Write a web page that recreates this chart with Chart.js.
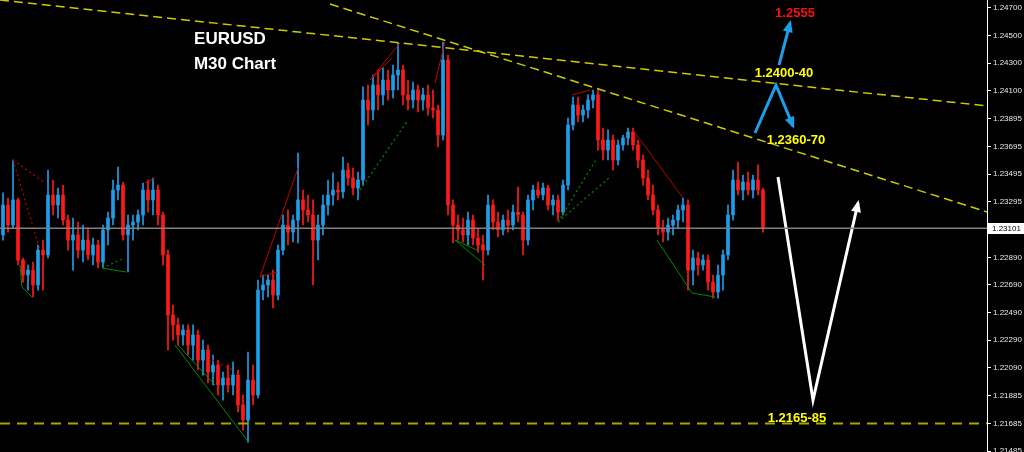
<!DOCTYPE html>
<html>
<head>
<meta charset="utf-8">
<script src="https://cdn.jsdelivr.net/npm/chart.js@4/dist/chart.umd.min.js"></script>
<style>
  html, body { margin: 0; padding: 0; background: #000; }
  canvas { display: block; background: #000; }
</style>
</head>
<body>
<canvas id="myChart" width="1024" height="452"></canvas>
<script>
// EURUSD M30 candles (one entry per bar, oldest first)
const opens = [
  1.23053, 1.23270, 1.23125, 1.23307, 1.22871, 1.22762, 1.22798, 1.22690, 1.22943, 1.22908,
  1.23343, 1.23270, 1.23343, 1.23161, 1.23016, 1.23053, 1.22943, 1.23016, 1.22908, 1.22980,
  1.22857, 1.23089, 1.23176, 1.23379, 1.23415, 1.23053, 1.23125, 1.23147, 1.23198, 1.23379,
  1.23307, 1.23379, 1.23198, 1.22908, 1.22472, 1.22400, 1.22327, 1.22363, 1.22254, 1.22327,
  1.22145, 1.22218, 1.22058, 1.22109, 1.21964, 1.22015, 1.21964, 1.22036, 1.21819, 1.21710,
  1.22000, 1.21892, 1.22653, 1.22690, 1.22726, 1.22617, 1.22943, 1.23125, 1.23074, 1.23161,
  1.23307, 1.23234, 1.23198, 1.23016, 1.23125, 1.23270, 1.23343, 1.23379, 1.23365, 1.23524,
  1.23466, 1.23394, 1.23452, 1.24032, 1.23960, 1.24141, 1.24069, 1.24177, 1.24105, 1.24214,
  1.24250, 1.24069, 1.24032, 1.24105, 1.24032, 1.24069, 1.23974, 1.23960, 1.23778, 1.24323,
  1.23270, 1.23125, 1.23089, 1.23053, 1.23161, 1.23031, 1.22980, 1.22943, 1.23270, 1.23147,
  1.23089, 1.23161, 1.23125, 1.23219, 1.23198, 1.23016, 1.23307, 1.23379, 1.23343, 1.23394,
  1.23270, 1.23307, 1.23219, 1.23415, 1.23851, 1.23996, 1.23923, 1.23960, 1.24032, 1.24069,
  1.23742, 1.23669, 1.23742, 1.23597, 1.23706, 1.23757, 1.23800, 1.23706, 1.23597, 1.23466,
  1.23343, 1.23234, 1.23103, 1.23074, 1.23125, 1.23161, 1.23234, 1.23270, 1.22798, 1.22886,
  1.22835, 1.22871, 1.22711, 1.22639, 1.22762, 1.22908, 1.23198, 1.23452, 1.23379, 1.23437,
  1.23379, 1.23452, 1.23379
];
const highs = [
  1.23358, 1.23321, 1.23597, 1.23321, 1.22886, 1.22835, 1.22857, 1.22980, 1.23016, 1.23524,
  1.23452, 1.23394, 1.23415, 1.23198, 1.23176, 1.23147, 1.23125, 1.23103, 1.23031, 1.23016,
  1.23125, 1.23219, 1.23452, 1.23546, 1.23437, 1.23198, 1.23198, 1.23234, 1.23430, 1.23452,
  1.23466, 1.23415, 1.23219, 1.22943, 1.22545, 1.22450, 1.22400, 1.22400, 1.22400, 1.22363,
  1.22290, 1.22254, 1.22182, 1.22145, 1.22058, 1.22109, 1.22131, 1.22073, 1.21892, 1.22203,
  1.22109, 1.22726, 1.22762, 1.22762, 1.22798, 1.22980, 1.23198, 1.23234, 1.23198, 1.23648,
  1.23379, 1.23343, 1.23307, 1.23198, 1.23343, 1.23452, 1.23503, 1.23437, 1.23619, 1.23575,
  1.23539, 1.23510, 1.24127, 1.24141, 1.24214, 1.24250, 1.24265, 1.24250, 1.24286, 1.24446,
  1.24286, 1.24177, 1.24163, 1.24141, 1.24119, 1.24141, 1.24105, 1.23996, 1.24453, 1.24359,
  1.23307, 1.23198, 1.23176, 1.23219, 1.23198, 1.23103, 1.23053, 1.23343, 1.23307, 1.23219,
  1.23198, 1.23234, 1.23270, 1.23401, 1.23219, 1.23343, 1.23415, 1.23437, 1.23430, 1.23415,
  1.23343, 1.23343, 1.23452, 1.23902, 1.24054, 1.24054, 1.23996, 1.24069, 1.24105, 1.24105,
  1.23829, 1.23815, 1.23778, 1.23742, 1.23778, 1.23829, 1.23829, 1.23742, 1.23633, 1.23524,
  1.23415, 1.23270, 1.23161, 1.23176, 1.23198, 1.23270, 1.23321, 1.23307, 1.22943, 1.22929,
  1.22908, 1.22908, 1.22762, 1.22835, 1.22943, 1.23270, 1.23524, 1.23582, 1.23488, 1.23510,
  1.23488, 1.23561, 1.23394
];
const lows = [
  1.23016, 1.23074, 1.23103, 1.22835, 1.22711, 1.22653, 1.22603, 1.22653, 1.22653, 1.22886,
  1.23198, 1.23176, 1.23125, 1.22943, 1.22798, 1.22886, 1.22857, 1.22871, 1.22835, 1.22813,
  1.22813, 1.22980, 1.23125, 1.23307, 1.23016, 1.22784, 1.23016, 1.23089, 1.23125, 1.23219,
  1.23198, 1.23125, 1.22835, 1.22218, 1.22290, 1.22254, 1.22254, 1.22182, 1.22145, 1.22073,
  1.22036, 1.21979, 1.21964, 1.21892, 1.21855, 1.21913, 1.21892, 1.21768, 1.21637, 1.21550,
  1.21819, 1.21870, 1.22581, 1.22603, 1.22523, 1.22581, 1.22908, 1.22980, 1.23002, 1.22995,
  1.23125, 1.23147, 1.22690, 1.22871, 1.23053, 1.23198, 1.23270, 1.23307, 1.23321, 1.23415,
  1.23343, 1.23307, 1.23415, 1.23851, 1.23887, 1.23960, 1.23996, 1.24032, 1.24047, 1.24105,
  1.23996, 1.23960, 1.23974, 1.23945, 1.23960, 1.23923, 1.23902, 1.23691, 1.23742, 1.23198,
  1.22995, 1.23016, 1.23002, 1.22980, 1.22980, 1.22929, 1.22726, 1.22908, 1.23089, 1.23038,
  1.23053, 1.23074, 1.23089, 1.23147, 1.22908, 1.22980, 1.23234, 1.23321, 1.23307, 1.23234,
  1.23198, 1.23161, 1.23198, 1.23379, 1.23815, 1.23873, 1.23873, 1.23902, 1.23974, 1.23669,
  1.23597, 1.23597, 1.23524, 1.23561, 1.23669, 1.23706, 1.23669, 1.23539, 1.23415, 1.23307,
  1.23198, 1.23053, 1.23002, 1.23016, 1.23053, 1.23103, 1.23147, 1.22653, 1.22690, 1.22762,
  1.22798, 1.22653, 1.22595, 1.22595, 1.22653, 1.22871, 1.23161, 1.23343, 1.23307, 1.23343,
  1.23321, 1.23343, 1.23074
];
const closes = [
  1.23270, 1.23125, 1.23307, 1.22871, 1.22762, 1.22798, 1.22690, 1.22943, 1.22908, 1.23343,
  1.23270, 1.23343, 1.23161, 1.23016, 1.23053, 1.22943, 1.23016, 1.22908, 1.22980, 1.22857,
  1.23089, 1.23176, 1.23379, 1.23415, 1.23053, 1.23125, 1.23147, 1.23198, 1.23379, 1.23307,
  1.23379, 1.23198, 1.22908, 1.22472, 1.22400, 1.22327, 1.22363, 1.22254, 1.22327, 1.22145,
  1.22218, 1.22058, 1.22109, 1.21964, 1.22015, 1.21964, 1.22036, 1.21819, 1.21710, 1.22000,
  1.21892, 1.22653, 1.22690, 1.22726, 1.22617, 1.22943, 1.23125, 1.23074, 1.23161, 1.23307,
  1.23234, 1.23198, 1.23016, 1.23125, 1.23270, 1.23343, 1.23379, 1.23365, 1.23524, 1.23466,
  1.23394, 1.23452, 1.24032, 1.23960, 1.24141, 1.24069, 1.24177, 1.24105, 1.24214, 1.24250,
  1.24069, 1.24032, 1.24105, 1.24032, 1.24069, 1.23974, 1.23960, 1.23778, 1.24323, 1.23270,
  1.23125, 1.23089, 1.23053, 1.23161, 1.23031, 1.22980, 1.22943, 1.23270, 1.23147, 1.23089,
  1.23161, 1.23125, 1.23219, 1.23198, 1.23016, 1.23307, 1.23379, 1.23343, 1.23394, 1.23270,
  1.23307, 1.23219, 1.23415, 1.23851, 1.23996, 1.23923, 1.23960, 1.24032, 1.24069, 1.23742,
  1.23669, 1.23742, 1.23597, 1.23706, 1.23757, 1.23800, 1.23706, 1.23597, 1.23466, 1.23343,
  1.23234, 1.23103, 1.23074, 1.23125, 1.23161, 1.23234, 1.23270, 1.22798, 1.22886, 1.22835,
  1.22871, 1.22711, 1.22639, 1.22762, 1.22908, 1.23198, 1.23452, 1.23379, 1.23437, 1.23379,
  1.23452, 1.23379, 1.23101
];

const lastPrice = 1.23101;
const supportLevel = 1.21685;
const tickValues = [1.247, 1.245, 1.243, 1.241, 1.23895, 1.23695, 1.23495, 1.23295,
  1.2289, 1.2269, 1.2249, 1.2229, 1.2209, 1.21885, 1.21685, 1.21485];

// trend lines (bar index, price)
const upperTrend = [{x: -0.6, y: 1.24758}, {x: 196.8, y: 1.23989}];
const lowerTrend = [{x: 65.4, y: 1.24729}, {x: 196.8, y: 1.23220}];

// zigzag indicator lines
const redSolid = [
  [{x: 28.4, y: 1.23430}, {x: 30.4, y: 1.23466}],
  [{x: 51.4, y: 1.22748}, {x: 59, y: 1.23539}],
  [{x: 51.4, y: 1.22748}, {x: 54.8, y: 1.22784}],
  [{x: 73.4, y: 1.24177}, {x: 79.4, y: 1.24446}],
  [{x: 73.4, y: 1.24177}, {x: 77.8, y: 1.24337}],
  [{x: 86.4, y: 1.24156}, {x: 88.4, y: 1.24453}],
  [{x: 113.8, y: 1.24069}, {x: 117.4, y: 1.24105}],
  [{x: 126, y: 1.23815}, {x: 136, y: 1.23321}]
];
const redDotted = [
  [{x: 2, y: 1.23597}, {x: 8.4, y: 1.23430}],
  [{x: 2, y: 1.23597}, {x: 7.4, y: 1.22943}],
  [{x: 41.8, y: 1.22145}, {x: 46, y: 1.22073}]
];
const greenSolid = [
  [{x: 3.4, y: 1.22835}, {x: 3.8, y: 1.22675}, {x: 5.8, y: 1.22603}],
  [{x: 19.8, y: 1.22813}, {x: 24.6, y: 1.22784}],
  [{x: 34.4, y: 1.22254}, {x: 48.8, y: 1.21565}],
  [{x: 35, y: 1.22254}, {x: 42.4, y: 1.21964}],
  [{x: 90.4, y: 1.23016}, {x: 96.4, y: 1.22835}],
  [{x: 90.4, y: 1.23016}, {x: 94.8, y: 1.22943}],
  [{x: 130.8, y: 1.23016}, {x: 137.8, y: 1.22632}, {x: 142.4, y: 1.22603}]
];
const greenDotted = [
  [{x: 19.8, y: 1.22813}, {x: 24.4, y: 1.22886}],
  [{x: 71.4, y: 1.23379}, {x: 81, y: 1.23887}],
  [{x: 111, y: 1.23147}, {x: 118.8, y: 1.23611}],
  [{x: 111, y: 1.23147}, {x: 121.4, y: 1.23473}]
];

// forecast arrows
const blueArrowUp = [{x: 155.2, y: 1.24286}, {x: 157.4, y: 1.24591}];
const blueArrowZig = [{x: 150.4, y: 1.23793}, {x: 154.6, y: 1.24141}, {x: 158, y: 1.23843}];
const whiteArrow = [{x: 155, y: 1.23473}, {x: 162, y: 1.21855}, {x: 171, y: 1.23285}];

const notes = [
  {text: 'EURUSD', x: 45.4, y: 1.24475, kind: 'title'},
  {text: 'M30 Chart', x: 46.4, y: 1.24293, kind: 'title'},
  {text: '1.2555', x: 158.4, y: 1.24660, kind: 'target'},
  {text: '1.2400-40', x: 156.2, y: 1.24228, kind: 'level'},
  {text: '1.2360-70', x: 158.6, y: 1.23742, kind: 'level'},
  {text: '1.2165-85', x: 158.8, y: 1.21724, kind: 'level'}
];

const BULL = '#1e9de8';
const BEAR = '#ff1a1a';
const AXIS_FONT = '"Liberation Sans", Arial, sans-serif';

const candleColors = closes.map((c, i) => c >= opens[i] ? BULL : BEAR);
const wickData = highs.map((h, i) => ({x: i, y: [lows[i], h]}));
const bodyData = opens.map((o, i) => ({x: i, y: [o, closes[i]]}));

function lineSet(points, color, width, dash, order, extra) {
  return Object.assign({
    type: 'line',
    data: points,
    borderColor: color,
    borderWidth: width,
    borderDash: dash || [],
    pointRadius: 0,
    tension: 0,
    fill: false,
    order: order
  }, extra || {});
}

const datasets = [
  lineSet([{x: -0.6, y: lastPrice}, {x: 196.8, y: lastPrice}], '#808080', 1.5, null, 0),
  lineSet(blueArrowUp, BULL, 3, null, 1, {arrowHead: true}),
  lineSet(blueArrowZig, BULL, 3, null, 1, {arrowHead: true}),
  lineSet(whiteArrow, '#ffffff', 3, null, 1, {arrowHead: true}),
  lineSet(upperTrend, '#cccc00', 1.5, [9, 5], 2),
  lineSet(lowerTrend, '#cccc00', 1.5, [9, 5], 2),
  lineSet([{x: -0.6, y: supportLevel}, {x: 196.8, y: supportLevel}], '#a6a600', 2, [10, 7], 2)
];
redSolid.forEach(p => datasets.push(lineSet(p, '#c00000', 1, null, 3)));
redDotted.forEach(p => datasets.push(lineSet(p, '#c00000', 1.2, [2, 3], 3)));
greenSolid.forEach(p => datasets.push(lineSet(p, '#008a00', 1, null, 3)));
greenDotted.forEach(p => datasets.push(lineSet(p, '#008a00', 1.2, [2, 3], 3)));

datasets.push({
  type: 'bar',
  data: bodyData,
  backgroundColor: candleColors,
  barThickness: 3,
  minBarLength: 1,
  grouped: false,
  borderWidth: 0,
  order: 4
});
datasets.push({
  type: 'bar',
  data: wickData,
  backgroundColor: candleColors,
  barThickness: 1,
  grouped: false,
  borderWidth: 0,
  order: 5
});

const overlay = {
  id: 'overlay',
  afterDatasetsDraw(chart) {
    const {ctx, scales: {x, y}} = chart;
    ctx.save();
    // arrow heads at the end of the forecast lines
    chart.data.datasets.forEach(ds => {
      if (!ds.arrowHead) return;
      const a = ds.data[ds.data.length - 2];
      const b = ds.data[ds.data.length - 1];
      const x1 = x.getPixelForValue(a.x), y1 = y.getPixelForValue(a.y);
      const x2 = x.getPixelForValue(b.x), y2 = y.getPixelForValue(b.y);
      const ang = Math.atan2(y2 - y1, x2 - x1);
      const len = 12, half = 5;
      const tx = x2 + Math.cos(ang) * 3, ty = y2 + Math.sin(ang) * 3;
      ctx.fillStyle = ds.borderColor;
      ctx.beginPath();
      ctx.moveTo(tx, ty);
      ctx.lineTo(tx - len * Math.cos(ang) + half * Math.sin(ang), ty - len * Math.sin(ang) - half * Math.cos(ang));
      ctx.lineTo(tx - len * Math.cos(ang) - half * Math.sin(ang), ty - len * Math.sin(ang) + half * Math.cos(ang));
      ctx.closePath();
      ctx.fill();
    });

    // text notes
    const styles = {
      title: {font: 'bold 17px "Liberation Sans", Arial, sans-serif', color: '#ffffff'},
      target: {font: 'bold 13px "Liberation Sans", Arial, sans-serif', color: '#ff1010'},
      level: {font: 'bold 13px "Liberation Sans", Arial, sans-serif', color: '#ffff00'}
    };
    ctx.textAlign = 'center';
    ctx.textBaseline = 'middle';
    notes.forEach(n => {
      const s = styles[n.kind];
      ctx.font = s.font;
      ctx.fillStyle = s.color;
      ctx.fillText(n.text, x.getPixelForValue(n.x), y.getPixelForValue(n.y));
    });
    ctx.restore();
  },
  afterDraw(chart) {
    const {ctx, chartArea, scales: {y}} = chart;
    const py = Math.round(y.getPixelForValue(lastPrice));
    ctx.save();
    ctx.fillStyle = '#ffffff';
    ctx.fillRect(chartArea.right + 1, py - 5, 40, 11);
    ctx.fillStyle = '#000000';
    ctx.font = '8px ' + AXIS_FONT;
    ctx.textAlign = 'left';
    ctx.textBaseline = 'middle';
    ctx.fillText(lastPrice.toFixed(5), chartArea.right + 5, py + 0.5);
    ctx.restore();
  }
};

const ctx = document.getElementById('myChart').getContext('2d');
const chart = new Chart(ctx, {
  type: 'bar',
  data: { datasets: datasets },
  options: {
    responsive: false,
    animation: false,
    layout: { padding: 0 },
    plugins: {
      legend: { display: false },
      tooltip: { enabled: false }
    },
    scales: {
      x: {
        type: 'linear',
        min: -0.6,
        max: 196.8,
        offset: false,
        display: false
      },
      y: {
        position: 'right',
        min: 1.21478,
        max: 1.24758,
        afterFit(scale) {
          scale.width = 37;
          scale.paddingTop = 0;
          scale.paddingBottom = 0;
        },
        afterBuildTicks(scale) {
          scale.ticks = tickValues.map(v => ({ value: v }));
        },
        ticks: {
          color: '#e8e8e8',
          font: { family: AXIS_FONT, size: 8 },
          padding: 2,
          autoSkip: false,
          callback: v => v.toFixed(5)
        },
        grid: {
          drawOnChartArea: false,
          color: '#ffffff',
          tickLength: 4
        },
        border: { color: '#ffffff' }
      }
    }
  },
  plugins: [overlay]
});
</script>
</body>
</html>
